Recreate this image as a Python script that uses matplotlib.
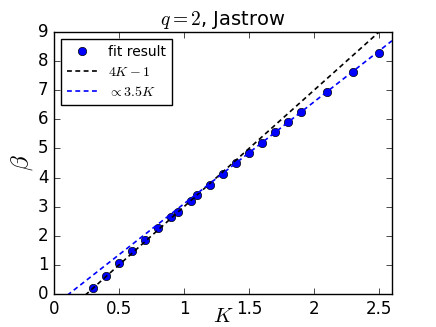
import matplotlib
matplotlib.use("Agg")
import matplotlib.pyplot as plt
import numpy as np

plt.style.use("classic")
plt.rcParams["mathtext.fontset"] = "cm"

# fitted beta values vs K
K = [0.3, 0.4, 0.5, 0.6, 0.7, 0.8, 0.9, 0.95, 1.05, 1.1, 1.2,
     1.3, 1.4, 1.5, 1.6, 1.7, 1.8, 1.9, 2.1, 2.3, 2.5]
beta = [0.22, 0.63, 1.05, 1.46, 1.86, 2.25, 2.63, 2.83, 3.2, 3.4, 3.76,
        4.12, 4.5, 4.85, 5.2, 5.56, 5.92, 6.26, 6.95, 7.63, 8.29]

xs = np.linspace(0, 2.6, 200)

fig, ax = plt.subplots(figsize=(4.36, 3.27), dpi=100)
fig.subplots_adjust(left=0.124, right=0.899, bottom=0.101, top=0.902)

ax.plot(K, beta, "bo", markersize=6, label="fit result")
ax.plot(xs, 4 * xs - 1, "k--", lw=1.2, dashes=(3.5, 2.5), label=r"$4K-1$")
ax.plot(xs, 3.5 * xs - 0.4, "b--", lw=1.2, dashes=(3.5, 2.5),
        label=r"$\propto 3.5K$")

ax.set_xlim(0, 2.6)
ax.set_ylim(0, 9)
ax.set_xticks([0, 0.5, 1, 1.5, 2, 2.5])
ax.set_xticklabels(["0", "0.5", "1", "1.5", "2", "2.5"])
ax.tick_params(labelsize=12)
ax.set_xlabel(r"$K$", fontsize=15, labelpad=-8)
ax.set_ylabel(r"$\beta$", fontsize=18, labelpad=2)
ax.set_title(r"$q=2$, Jastrow", fontsize=14)
ax.legend(loc="upper left", numpoints=1, fontsize=10, handlelength=2.2,
          borderpad=0.4, labelspacing=0.45)

fig.savefig("out.png")
